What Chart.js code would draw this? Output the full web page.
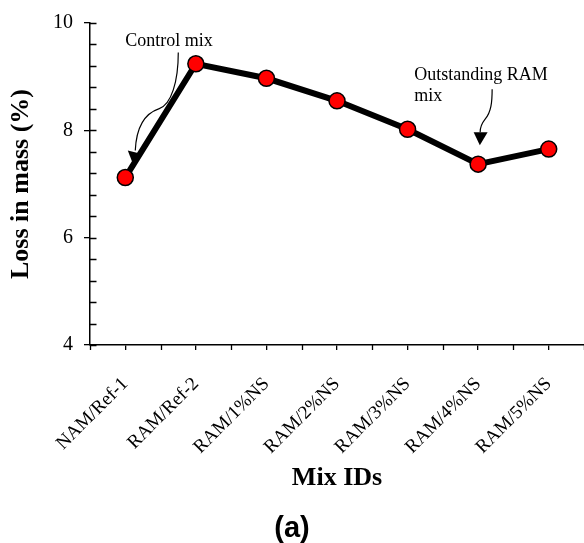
<!DOCTYPE html>
<html>
<head>
<meta charset="utf-8">
<script src="https://cdn.jsdelivr.net/npm/chart.js@4.4.1/dist/chart.umd.min.js"></script>
<style>
    html, body { margin: 0; padding: 0; background: #fff; }
</style>
</head>
<body>
<canvas id="lossChart" width="584" height="543"></canvas>
<script>
const mixIds = ['NAM/Ref-1', 'RAM/Ref-2', 'RAM/1%NS', 'RAM/2%NS', 'RAM/3%NS', 'RAM/4%NS', 'RAM/5%NS'];
const lossInMass = [7.12, 9.24, 8.97, 8.55, 8.02, 7.37, 7.65];
const yRange = [4, 10];
const yMajorStep = 2;
const yMinorStep = 0.4;

const SERIF = '"Liberation Serif", "Times New Roman", serif';

// extra tick marks: category boundaries on x, inner minor ticks on y
const axisTicks = {
    id: 'axisTicks',
    afterDraw(chart) {
        const { ctx, scales: { x, y } } = chart;
        ctx.save();
        ctx.strokeStyle = 'black';
        ctx.lineWidth = 1.3;
        ctx.beginPath();
        for (let i = 0; i <= mixIds.length; i++) {
            const px = Math.round(x.getPixelForValue(i - 0.5)) + 0.5;
            ctx.moveTo(px, x.top);
            ctx.lineTo(px, x.top + 5);
        }
        for (let v = y.min; v <= y.max + 1e-6; v += yMinorStep) {
            const py = Math.round(y.getPixelForValue(v)) + 0.5;
            ctx.moveTo(y.right, py);
            ctx.lineTo(y.right + 6.5, py);
        }
        ctx.stroke();
        ctx.restore();
    }
};

function arrowHead(ctx, a, b, tip) {
    ctx.beginPath();
    ctx.moveTo(a[0], a[1]);
    ctx.lineTo(b[0], b[1]);
    ctx.lineTo(tip[0], tip[1]);
    ctx.closePath();
    ctx.fill();
}

// text callouts with curved arrows, placed relative to the points they mark
const callouts = {
    id: 'callouts',
    afterDatasetsDraw(chart) {
        const { ctx, scales: { x, y } } = chart;
        ctx.save();
        ctx.fillStyle = 'black';
        ctx.strokeStyle = 'black';
        ctx.lineWidth = 1.2;
        ctx.font = '18px ' + SERIF;
        ctx.textBaseline = 'alphabetic';

        // control mix -> first point
        let px = x.getPixelForValue(0), py = y.getPixelForValue(lossInMass[0]);
        ctx.fillText('Control mix', px, py - 132);
        ctx.beginPath();
        ctx.moveTo(px + 53, py - 125);
        ctx.bezierCurveTo(px + 53, py - 96, px + 46, py - 73, px + 34, py - 69);
        ctx.bezierCurveTo(px + 19, py - 64, px + 11, py - 51, px + 10, py - 27);
        ctx.stroke();
        arrowHead(ctx, [px + 2.5, py - 27], [px + 14.5, py - 24], [px + 7.5, py - 14]);

        // outstanding RAM mix -> 4% NS point
        px = x.getPixelForValue(5);
        py = y.getPixelForValue(lossInMass[5]);
        ctx.fillText('Outstanding RAM', px - 64, py - 84);
        ctx.fillText('mix', px - 64, py - 63);
        ctx.beginPath();
        ctx.moveTo(px + 14, py - 75);
        ctx.bezierCurveTo(px + 14, py - 62, px + 13, py - 52, px + 7, py - 45);
        ctx.bezierCurveTo(px + 3, py - 40, px + 2, py - 36, px + 2, py - 32);
        ctx.stroke();
        arrowHead(ctx, [px - 4.5, py - 32], [px + 9.5, py - 32], [px + 1.7, py - 19]);
        ctx.restore();
    }
};

new Chart(document.getElementById('lossChart'), {
    type: 'line',
    data: {
        labels: mixIds,
        datasets: [{
            data: lossInMass,
            borderColor: 'black',
            borderWidth: 6,
            backgroundColor: '#ff0000',
            pointBackgroundColor: '#ff0000',
            pointBorderColor: 'black',
            pointBorderWidth: 1.5,
            pointRadius: 8,
            tension: 0,
            clip: false
        }]
    },
    options: {
        responsive: false,
        animation: false,
        layout: { autoPadding: false, padding: { top: 19, left: 0, right: 0, bottom: 0 } },
        plugins: {
            legend: { display: false },
            tooltip: { enabled: false },
            title: {
                display: true,
                position: 'bottom',
                text: '(a)',
                color: 'black',
                padding: 0,
                font: { family: '"Liberation Sans", Arial, sans-serif', size: 29, weight: 'bold', lineHeight: 1 }
            }
        },
        scales: {
            x: {
                type: 'category',
                offset: true,
                afterFit(scale) {
                    scale.height = 169;
                    scale.paddingLeft = 0;
                    scale.paddingRight = 0;
                },
                grid: { offset: false, drawOnChartArea: false, color: 'black', lineWidth: 1.3, tickLength: 5 },
                border: { color: 'black', width: 1.5 },
                ticks: {
                    color: 'black',
                    autoSkip: false,
                    minRotation: 45,
                    maxRotation: 45,
                    padding: 23,
                    font: { family: SERIF, size: 19 }
                },
                title: {
                    display: true,
                    text: 'Mix IDs',
                    color: 'black',
                    padding: { top: 0, bottom: 20 },
                    font: { family: SERIF, size: 26, weight: 'bold' }
                }
            },
            y: {
                min: yRange[0],
                max: yRange[1],
                afterFit(scale) { scale.width = 90; },
                grid: { drawOnChartArea: false, color: 'black', lineWidth: 1.3, tickLength: 6 },
                border: { color: 'black', width: 1.5 },
                ticks: {
                    stepSize: yMajorStep,
                    color: 'black',
                    padding: 11,
                    font: { family: SERIF, size: 20 }
                },
                title: {
                    display: true,
                    text: 'Loss in mass (%)',
                    color: 'black',
                    padding: { top: 6, bottom: 0 },
                    font: { family: SERIF, size: 26, weight: 'bold' }
                }
            }
        }
    },
    plugins: [axisTicks, callouts]
});
</script>
</body>
</html>
